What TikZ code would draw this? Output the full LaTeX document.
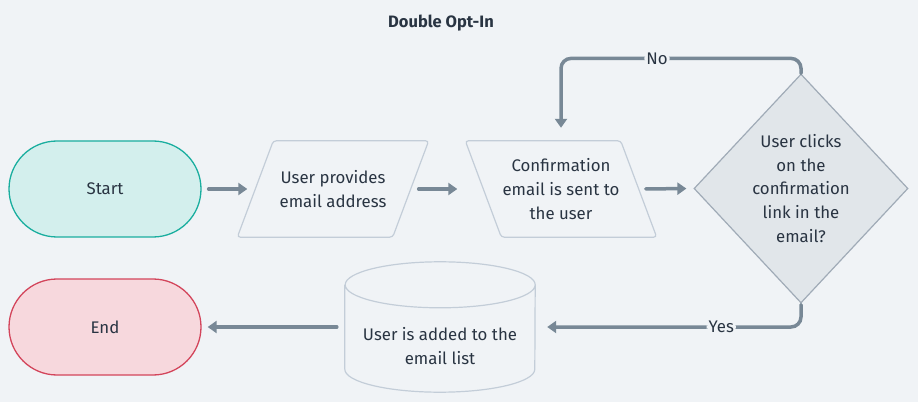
\documentclass[tikz,border=0pt]{standalone}
\usepackage{fontspec}
\setmainfont{Fira Sans}
\usetikzlibrary{shapes.geometric,arrows.meta}
\definecolor{bggray}{HTML}{F0F3F6}
\definecolor{txtgray}{HTML}{293442}
\definecolor{startfill}{HTML}{D3EFED}
\definecolor{startline}{HTML}{1AAE9F}
\definecolor{endfill}{HTML}{F7D8DD}
\definecolor{endline}{HTML}{D3455B}
\definecolor{boxline}{HTML}{C3CDD8}
\definecolor{decfill}{HTML}{E1E6EA}
\definecolor{decline}{HTML}{A0ABB7}
\definecolor{arrowgray}{HTML}{788896}
\begin{document}
\begin{tikzpicture}[x=1pt,y=1pt,font=\fontsize{16.8}{23.8}\selectfont,text=txtgray]
        % Styles
        \tikzstyle{terminal}=[rounded corners=48pt,minimum width=192pt,minimum height=96pt,line width=1.3pt]
        \tikzstyle{inputbox}=[minimum width=155pt,minimum height=96pt,inner sep=0pt,align=center]
        \tikzstyle{inputline}=[draw=boxline,line width=1.2pt,rounded corners=3pt]
        \tikzstyle{decision}=[diamond,aspect=0.934,minimum width=214pt,minimum height=229pt,inner sep=0pt,draw=decline,fill=decfill,line width=1.2pt,align=center]
        \tikzstyle{flow}=[line width=3.5pt,draw=arrowgray,line cap=round,-{Triangle[length=9pt,width=12pt]}]
        \tikzstyle{flow label}=[fill=bggray,inner sep=2pt,text=txtgray]
        %The graphic
        \fill[bggray] (0,0) rectangle (918,402);
        \useasboundingbox (0,0) rectangle (918,402);
        \node[font=\fontsize{16.5}{20}\selectfont\bfseries] (title) at (441,379) {Double Opt-In};
        %top row
        \node[terminal,draw=startline,fill=startfill] (start) at (105,213) {Start};
        \node[inputbox] (provide) at (333,213) {User provides\\email address};
        \draw[inputline] ([xshift=-18pt]provide.south west) -- ([xshift=18pt]provide.north west)
            -- ([xshift=18pt]provide.north east) -- ([xshift=-18pt]provide.south east) -- cycle;
        \node[inputbox] (sent) at (561,213) {Confirmation\\email is sent to\\the user};
        \draw[inputline] ([xshift=18pt]sent.south west) -- ([xshift=-18pt]sent.north west)
            -- ([xshift=-18pt]sent.north east) -- ([xshift=18pt]sent.south east) -- cycle;
        \node[decision] (clicks) at (801,213.5) {User clicks\\on the\\confirmation\\link in the\\email?};
        %bottom row
        \node[minimum width=190pt,minimum height=130pt,inner sep=0pt] (store) at (440,75) {};
        \draw[boxline,line width=1.2pt] ([yshift=-23pt]store.north west) -- ([yshift=23pt]store.south west)
            arc[start angle=180,end angle=360,x radius=95pt,y radius=23pt] -- ([yshift=-23pt]store.north east)
            arc[start angle=0,end angle=360,x radius=95pt,y radius=23pt];
        \node[align=center] (storetext) at (440,56) {User is added to the\\email list};
        \node[terminal,draw=endline,fill=endfill] (end) at (105,75) {End};
        %connectors
        \draw[flow,shorten <=7pt,shorten >=8pt] (start.east) -- (provide.west);
        \draw[flow,shorten <=8pt,shorten >=26pt] (provide.east) -- (sent.west);
        \draw[flow,shorten <=7pt,shorten >=7pt] (sent.east) -- (clicks.west);
        \draw[flow,rounded corners=10pt,shorten >=13pt] (clicks.north) -- ++(0,15) coordinate (noturn)
            -- node[flow label,pos=0.6] {No} (noturn -| sent.north) -- (sent.north);
        \draw[flow,rounded corners=10pt,shorten <=1pt,shorten >=12pt] (clicks.south) |- node[flow label,pos=0.65] {Yes} (store.east);
        \draw[flow,shorten <=8pt,shorten >=6pt] (store.west) -- (end.east);
\end{tikzpicture}
\end{document}
